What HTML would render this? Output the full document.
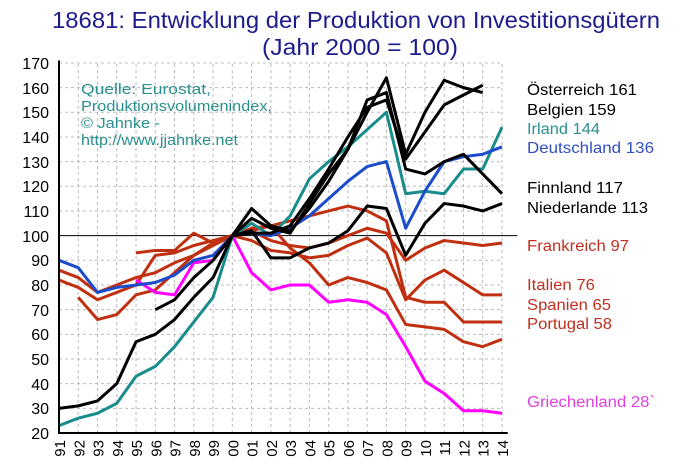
<!DOCTYPE html>
<html><head><meta charset="utf-8"><style>
html,body{margin:0;padding:0;background:#fff;}
svg{display:block;font-family:"Liberation Sans",sans-serif;}
</style></head><body>
<svg width="700" height="470" viewBox="0 0 700 470" xmlns="http://www.w3.org/2000/svg">
<rect width="700" height="470" fill="#fff"/>
<text x="52" y="28" font-size="23" fill="#1c1c8c" textLength="608" lengthAdjust="spacingAndGlyphs">18681: Entwicklung der Produktion von Investitionsgütern</text>
<text x="262" y="55" font-size="23" fill="#1c1c8c" textLength="196" lengthAdjust="spacingAndGlyphs">(Jahr 2000 = 100)</text>
<g transform="matrix(19.26 0 0 -2.467 59 482.34)" fill="none">
<g stroke="#bbb" stroke-width="1" stroke-dasharray="3 3">
<path vector-effect="non-scaling-stroke" d="M0 30H23M0 40H23M0 50H23M0 60H23M0 70H23M0 80H23M0 90H23M0 110H23M0 120H23M0 130H23M0 140H23M0 150H23M0 160H23M0 170H23"/>
<path vector-effect="non-scaling-stroke" d="M1 20V170M2 20V170M3 20V170M4 20V170M5 20V170M6 20V170M7 20V170M8 20V170M9 20V170M10 20V170M11 20V170M12 20V170M13 20V170M14 20V170M15 20V170M16 20V170M17 20V170M18 20V170M19 20V170M20 20V170M21 20V170M22 20V170M23 20V170"/>
</g>
<path vector-effect="non-scaling-stroke" stroke="#000" stroke-width="1" d="M0 100H23.8"/>
<g stroke-width="3" stroke-linejoin="round">
<polyline vector-effect="non-scaling-stroke" stroke="#c03010" points="0,86 1,83 2,77 3,80 4,83 5,85 6,89 7,92 8,96 9,100 10,102 11,98 12,96 13,95 14,97 15,100 16,103 17,101 18,90 19,95 20,98 21,97 22,96 23,97"/>
<polyline vector-effect="non-scaling-stroke" stroke="#c03010" points="0,82 1,79 2,74 3,77 4,80 5,92 6,93 7,96 8,98 9,100 10,98 11,94 12,93 13,91 14,92 15,96 16,99 17,93 18,74 19,82 20,86 21,81 22,76 23,76"/>
<polyline vector-effect="non-scaling-stroke" stroke="#c03010" points="1,75 2,66 3,68 4,76 5,78 6,85 7,92 8,97 9,100 10,103 11,104 12,95 13,89 14,80 15,83 16,81 17,78 18,64 19,63 20,62 21,57 22,55 23,58"/>
<polyline vector-effect="non-scaling-stroke" stroke="#c03010" points="4,93 5,94 6,94 7,101 8,97 9,100 10,102 11,104 12,106 13,108 14,110 15,112 16,110 17,106 18,75 19,73 20,73 21,65 22,65 23,65"/>
<polyline vector-effect="non-scaling-stroke" stroke="#ff00ff" points="4,82 5,77 6,76 7,89 8,90 9,100 10,85 11,78 12,80 13,80 14,73 15,74 16,73 17,68 18,55 19,41 20,36 21,29 22,29 23,28"/>
<polyline vector-effect="non-scaling-stroke" stroke="#1a8c8c" points="0,23 1,26 2,28 3,32 4,43 5,47 6,55 7,65 8,75 9,100 10,105 11,100 12,108 13,123 14,130 15,136 16,143 17,150 18,117 19,118 20,117 21,127 22,127 23,144"/>
<polyline vector-effect="non-scaling-stroke" stroke="#1a4ccc" points="0,90 1,87 2,77 3,79 4,80 5,81 6,84 7,90 8,92 9,100 10,101 11,100 12,103 13,108 14,115 15,122 16,128 17,130 18,103 19,118 20,130 21,132 22,133 23,136"/>
<polyline vector-effect="non-scaling-stroke" stroke="#000" points="0,30 1,31 2,33 3,40 4,57 5,60 6,66 7,75 8,83 9,100 10,107 11,103 12,101 13,113 14,125 15,135 16,155 17,158 18,127 19,125 20,130 21,133 22,125 23,117"/>
<polyline vector-effect="non-scaling-stroke" stroke="#000" points="9,100 10,102 11,91 12,91 13,95 14,97 15,102 16,112 17,111 18,92 19,105 20,113 21,112 22,110 23,113"/>
<polyline vector-effect="non-scaling-stroke" stroke="#000" points="5,70 6,74 7,83 8,90 9,100 10,111 11,104 12,102 13,111 14,122 15,135 16,150 17,164 18,133 19,150 20,163 21,160 22,158"/>
<polyline vector-effect="non-scaling-stroke" stroke="#000" points="9,100 10,101 11,101 12,104 13,115 14,127 15,140 16,152 17,155 18,131 19,142 20,153 21,157 22,161"/>
</g>
<path vector-effect="non-scaling-stroke" stroke="#000" stroke-width="2" d="M0 171V20H23.3"/>
</g>
<g font-size="16" text-anchor="end" fill="#000">
<text x="49" y="69">170</text><text x="49" y="94">160</text><text x="49" y="118">150</text><text x="49" y="143">140</text><text x="49" y="168">130</text><text x="49" y="192">120</text><text x="49" y="217">110</text><text x="49" y="242">100</text><text x="49" y="266">90</text><text x="49" y="291">80</text><text x="49" y="316">70</text><text x="49" y="340">60</text><text x="49" y="365">50</text><text x="49" y="390">40</text><text x="49" y="414">30</text><text x="49" y="439">20</text>
</g>
<g font-size="15" fill="#000">
<text transform="translate(65,440) rotate(-90)" text-anchor="end">91</text>
<text transform="translate(84.3,440) rotate(-90)" text-anchor="end">92</text>
<text transform="translate(103.5,440) rotate(-90)" text-anchor="end">93</text>
<text transform="translate(122.8,440) rotate(-90)" text-anchor="end">94</text>
<text transform="translate(142,440) rotate(-90)" text-anchor="end">95</text>
<text transform="translate(161.3,440) rotate(-90)" text-anchor="end">96</text>
<text transform="translate(180.5,440) rotate(-90)" text-anchor="end">97</text>
<text transform="translate(199.8,440) rotate(-90)" text-anchor="end">98</text>
<text transform="translate(219.1,440) rotate(-90)" text-anchor="end">99</text>
<text transform="translate(238.3,440) rotate(-90)" text-anchor="end">00</text>
<text transform="translate(257.6,440) rotate(-90)" text-anchor="end">01</text>
<text transform="translate(276.9,440) rotate(-90)" text-anchor="end">02</text>
<text transform="translate(296.1,440) rotate(-90)" text-anchor="end">03</text>
<text transform="translate(315.4,440) rotate(-90)" text-anchor="end">04</text>
<text transform="translate(334.6,440) rotate(-90)" text-anchor="end">05</text>
<text transform="translate(353.9,440) rotate(-90)" text-anchor="end">06</text>
<text transform="translate(373.2,440) rotate(-90)" text-anchor="end">07</text>
<text transform="translate(392.4,440) rotate(-90)" text-anchor="end">08</text>
<text transform="translate(411.7,440) rotate(-90)" text-anchor="end">09</text>
<text transform="translate(430.9,440) rotate(-90)" text-anchor="end">10</text>
<text transform="translate(450.2,440) rotate(-90)" text-anchor="end">11</text>
<text transform="translate(469.5,440) rotate(-90)" text-anchor="end">12</text>
<text transform="translate(488.7,440) rotate(-90)" text-anchor="end">13</text>
<text transform="translate(508,440) rotate(-90)" text-anchor="end">14</text>
</g>
<g font-size="15" fill="#2a9090">
<text x="81" y="94" textLength="130" lengthAdjust="spacingAndGlyphs">Quelle: Eurostat,</text>
<text x="81" y="111" textLength="191" lengthAdjust="spacingAndGlyphs">Produktionsvolumenindex,</text>
<text x="81" y="128" textLength="79" lengthAdjust="spacingAndGlyphs">© Jahnke -</text>
<text x="81" y="145" textLength="157" lengthAdjust="spacingAndGlyphs">http://www.jjahnke.net</text>
</g>
<g font-size="15.5">
<text x="527" y="95" fill="#000" textLength="110" lengthAdjust="spacingAndGlyphs">Österreich 161</text>
<text x="527" y="115" fill="#000" textLength="89" lengthAdjust="spacingAndGlyphs">Belgien 159</text>
<text x="527" y="134" fill="#2a9090" textLength="73" lengthAdjust="spacingAndGlyphs">Irland 144</text>
<text x="527" y="153" fill="#3050c0" textLength="127" lengthAdjust="spacingAndGlyphs">Deutschland 136</text>
<text x="527" y="193" fill="#000" textLength="96" lengthAdjust="spacingAndGlyphs">Finnland 117</text>
<text x="527" y="213" fill="#000" textLength="121" lengthAdjust="spacingAndGlyphs">Niederlande 113</text>
<text x="527" y="251" fill="#c03020" textLength="102" lengthAdjust="spacingAndGlyphs">Frankreich 97</text>
<text x="527" y="290" fill="#c03020" textLength="68" lengthAdjust="spacingAndGlyphs">Italien 76</text>
<text x="527" y="310" fill="#c03020" textLength="84" lengthAdjust="spacingAndGlyphs">Spanien 65</text>
<text x="527" y="329" fill="#c03020" textLength="85" lengthAdjust="spacingAndGlyphs">Portugal 58</text>
<text x="527" y="407" fill="#e040e0" textLength="128" lengthAdjust="spacingAndGlyphs">Griechenland 28`</text>
</g>
</svg>
</body></html>
